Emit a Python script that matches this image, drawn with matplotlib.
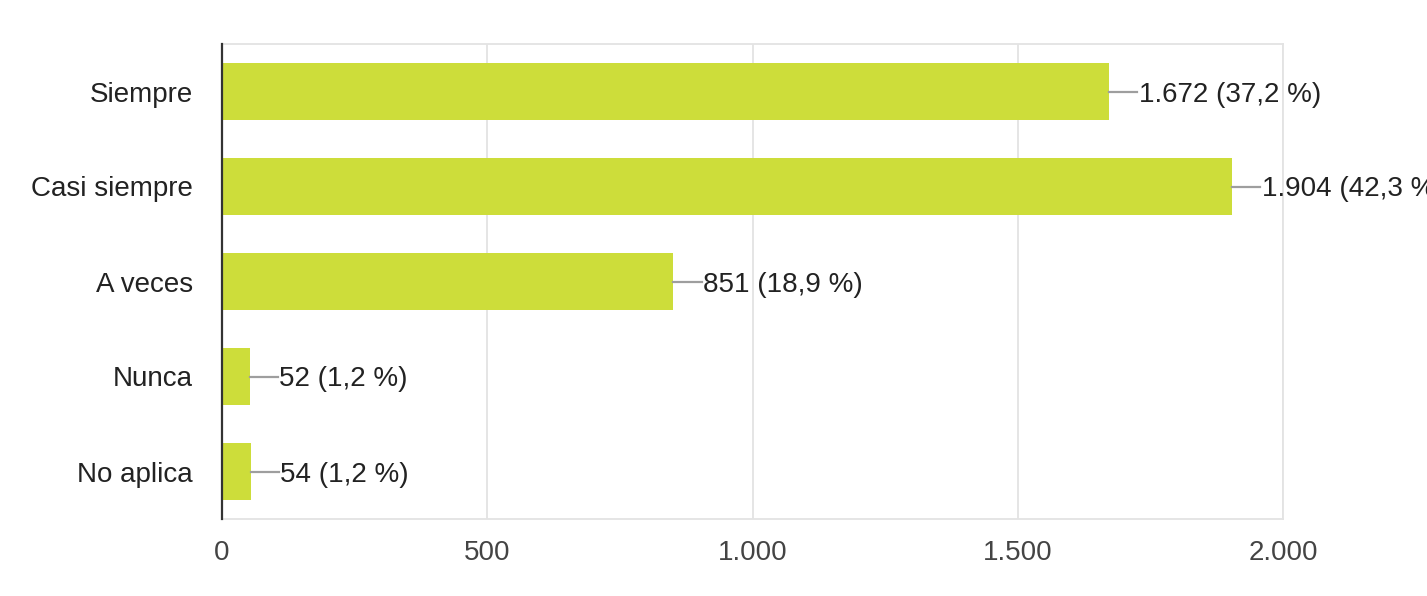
import matplotlib
matplotlib.use("Agg")
import matplotlib.pyplot as plt

categories = ["Siempre", "Casi siempre", "A veces", "Nunca", "No aplica"]
counts = [1672, 1904, 851, 52, 54]
percents = [37.2, 42.3, 18.9, 1.2, 1.2]
xticks = [0, 500, 1000, 1500, 2000]

BAR = "#cddd3a"
plt.rcParams["font.family"] = ["Liberation Sans", "DejaVu Sans"]
FS = 20


def fmt_int(v):
    return f"{v:,}".replace(",", ".")


def fmt_pct(p):
    return f"{p:.1f}".replace(".", ",")


fig = plt.figure(figsize=(14.27, 5.96), dpi=100)
ax = fig.add_axes([222 / 1427, 1 - 519 / 596, (1283 - 222) / 1427, (519 - 44) / 596])

y = list(range(len(categories)))
ax.barh(y, counts, height=0.61, color=BAR, zorder=2)
ax.set_ylim(len(categories) - 0.5, -0.5)
ax.set_xlim(0, 2000)

# value labels hang off a short grey leader line, like the Forms export
for yi, c, p in zip(y, counts, percents):
    ax.plot([c, c + 53], [yi, yi], color="#9e9e9e", lw=1.6, zorder=3, clip_on=False)
    ax.text(c + 56, yi, f"{fmt_int(c)} ({fmt_pct(p)} %)", va="center_baseline",
            ha="left", fontsize=FS, color="#222222", clip_on=False)

ax.set_yticks(y)
ax.set_yticklabels(categories, fontsize=FS, color="#222222", va="center_baseline")
ax.set_xticks(xticks)
ax.set_xticklabels([fmt_int(t) for t in xticks], fontsize=FS, color="#444444")
ax.tick_params(axis="both", length=0)
ax.tick_params(axis="x", pad=15)
ax.tick_params(axis="y", pad=21)

ax.grid(axis="x", color="#e3e3e3", lw=1.3, zorder=0)
for side in ("top", "right", "bottom"):
    ax.spines[side].set_color("#e3e3e3")
    ax.spines[side].set_linewidth(1.3)
ax.spines["left"].set_color("#333333")
ax.spines["left"].set_linewidth(1.6)
ax.spines["left"].set_zorder(4)

fig.savefig("out.png", dpi=100)
